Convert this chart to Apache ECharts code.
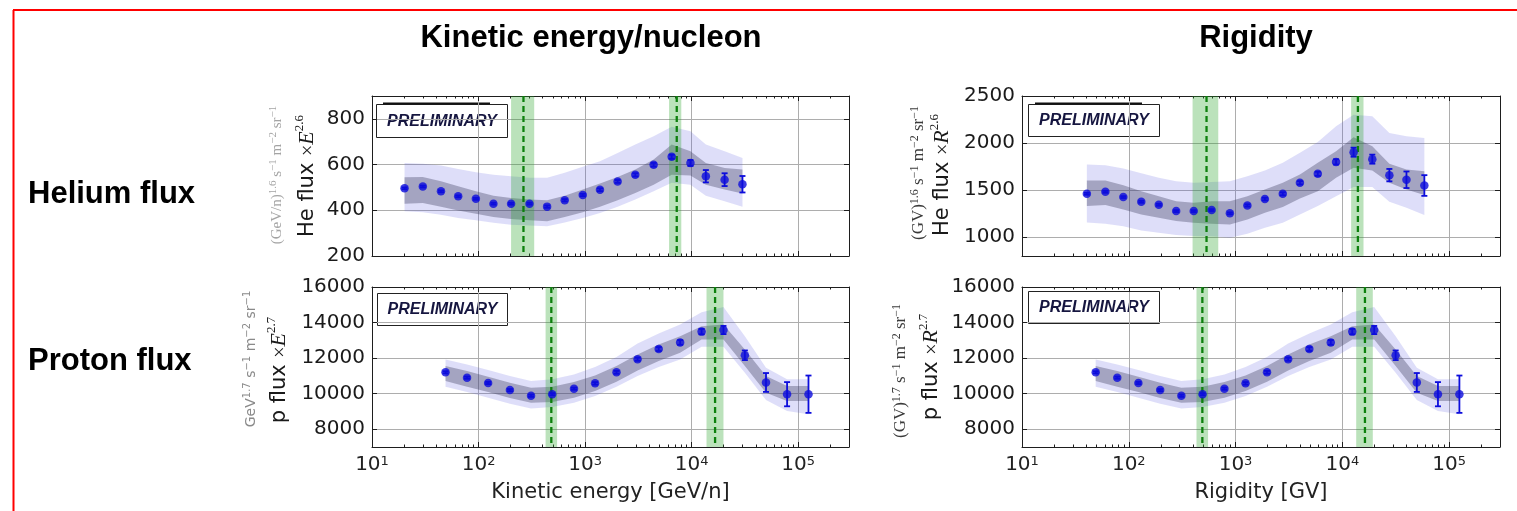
<!DOCTYPE html>
<html>
<head>
<meta charset="utf-8">
<script src="https://cdn.jsdelivr.net/npm/echarts@6/dist/echarts.min.js"></script>
<style>
  html, body { margin: 0; padding: 0; background: #ffffff; overflow: hidden; }
  #chart { width: 1517px; height: 511px; }
</style>
</head>
<body>
<div id="chart"></div>
<script>
// ---------- shared log x axis ----------
const X_MIN = 10;
const X_MAX = 300000;
const xMajor = [10, 100, 1000, 10000, 100000];
const xMajorExp = ['1', '2', '3', '4', '5'];
const xMinor = [20, 30, 40, 50, 60, 70, 80, 90,
                200, 300, 400, 500, 600, 700, 800, 900,
                2000, 3000, 4000, 5000, 6000, 7000, 8000, 9000,
                20000, 30000, 40000, 50000, 60000, 70000, 80000, 90000,
                200000, 300000];

// ---------- Helium flux x E^2.6 vs kinetic energy per nucleon ----------
const heEkX   = [20.2, 30, 44.4, 64.4, 94.4, 138, 202, 301, 440, 644, 951, 1380, 2020, 2960, 4400, 6500, 9750, 13600, 20400, 30000];
const heEkY   = [496, 504, 483, 461, 450, 429, 429, 429, 416, 444, 467, 490, 526, 555, 599, 634, 607, 549, 534, 514];
const heEkErr = [4, 4, 4, 4, 4, 4, 4, 4, 5, 5, 5, 6, 6, 7, 8, 9, 13, 27, 28, 36];
const heEkInnerHi = [545, 546, 527, 505, 483, 464, 454, 447, 444, 464, 491, 517, 546, 578, 622, 688, 658, 607, 585, 578];
const heEkInnerLo = [429, 432, 415, 399, 385, 371, 362, 356, 352, 371, 391, 415, 444, 476, 512, 556, 552, 512, 491, 473];
const heEkOuterHi = [607, 604, 596, 581, 566, 556, 549, 542, 542, 564, 590, 615, 651, 688, 724, 765, 746, 688, 658, 629];
const heEkOuterLo = [396, 391, 381, 366, 356, 345, 337, 333, 330, 347, 366, 388, 415, 447, 483, 520, 512, 464, 439, 415];
// [band low, band high, dashed line] per spectral break
const heEkBreaks = [[202, 333, 264], [6140, 8000, 7250]];
const heEkTicks = [200, 400, 600, 800];

// ---------- Helium flux x R^2.6 vs rigidity ----------
const heRX   = [40.5, 60.4, 88.9, 131, 191, 278, 406, 597, 885, 1291, 1884, 2771, 4010, 5894, 8744, 12760, 19100, 27600, 39900, 58700];
const heRY   = [1461, 1482, 1426, 1376, 1344, 1277, 1277, 1288, 1253, 1337, 1405, 1461, 1578, 1673, 1800, 1903, 1829, 1659, 1610, 1549];
const heRErr = [10, 10, 10, 10, 10, 10, 10, 10, 10, 12, 14, 16, 18, 22, 28, 48, 48, 66, 88, 110];
const heRInnerHi = [1602, 1602, 1553, 1489, 1436, 1383, 1366, 1383, 1383, 1436, 1507, 1578, 1666, 1790, 1913, 2062, 1966, 1779, 1719, 1701];
const heRInnerLo = [1330, 1341, 1295, 1242, 1207, 1171, 1154, 1143, 1136, 1189, 1260, 1320, 1412, 1489, 1631, 1737, 1708, 1578, 1507, 1447];
const heROuterHi = [1772, 1765, 1731, 1680, 1631, 1595, 1578, 1585, 1595, 1648, 1708, 1790, 1896, 2012, 2179, 2302, 2285, 2108, 2072, 2055];
const heROuterLo = [1157, 1143, 1115, 1072, 1048, 1023, 1012, 1009, 995, 1037, 1101, 1154, 1242, 1330, 1436, 1532, 1532, 1376, 1313, 1235];
const heRBreaks = [[396, 689, 535], [12100, 15800, 14000]];
const heRTicks = [1000, 1500, 2000, 2500];

// ---------- Proton flux x E^2.7 (same points vs E and vs R) ----------
const pX   = [49, 78, 123, 197, 311, 491, 787, 1241, 1972, 3110, 4910, 7800, 12400, 19900, 31600, 49900, 78700, 125000];
const pY   = [11200, 10900, 10600, 10200, 9880, 9970, 10280, 10580, 11200, 11940, 12510, 12880, 13490, 13580, 12160, 10630, 9970, 9970];
const pErr = [60, 60, 60, 60, 60, 60, 60, 70, 80, 90, 110, 130, 150, 230, 270, 530, 680, 1050];
const pInnerHi = [11551, 11271, 10953, 10617, 10336, 10392, 10654, 11028, 11551, 12205, 12766, 13233, 13794, 13888, 12486, 10991, 10430, 10430];
const pInnerLo = [10710, 10392, 10093, 9757, 9495, 9533, 9776, 10150, 10673, 11308, 11832, 12299, 13047, 13047, 11551, 10056, 9589, 9589];
const pOuterHi = [11925, 11645, 11327, 10991, 10710, 10804, 11084, 11495, 12056, 12822, 13383, 13888, 14579, 14878, 13233, 11458, 10804, 10804];
const pOuterLo = [10392, 10093, 9776, 9439, 9159, 9252, 9495, 9869, 10392, 10991, 11495, 11925, 12635, 12635, 11178, 9645, 9028, 8841];
const pEkBreaks = [[426, 546, 482], [13800, 19900, 16600]];
const pRBreaks  = [[431, 553, 489], [13500, 19300, 16300]];
const pTicks = [8000, 10000, 12000, 14000, 16000];

// ---------- panel layout ----------
const panels = [
  { grid: { left: 372, top: 96, width: 477, height: 160 }, yMin: 200, yMax: 900, yTicks: heEkTicks,
    xs: heEkX, ys: heEkY, err: heEkErr, inHi: heEkInnerHi, inLo: heEkInnerLo, outHi: heEkOuterHi, outLo: heEkOuterLo,
    breaks: heEkBreaks, xName: '' },
  { grid: { left: 372, top: 287, width: 477, height: 160 }, yMin: 7000, yMax: 16000, yTicks: pTicks,
    xs: pX, ys: pY, err: pErr, inHi: pInnerHi, inLo: pInnerLo, outHi: pOuterHi, outLo: pOuterLo,
    breaks: pEkBreaks, xName: 'Kinetic energy [GeV/n]' },
  { grid: { left: 1022, top: 96, width: 478, height: 160 }, yMin: 800, yMax: 2500, yTicks: heRTicks,
    xs: heRX, ys: heRY, err: heRErr, inHi: heRInnerHi, inLo: heRInnerLo, outHi: heROuterHi, outLo: heROuterLo,
    breaks: heRBreaks, xName: '' },
  { grid: { left: 1022, top: 287, width: 478, height: 160 }, yMin: 7000, yMax: 16000, yTicks: pTicks,
    xs: pX, ys: pY, err: pErr, inHi: pInnerHi, inLo: pInnerLo, outHi: pOuterHi, outLo: pOuterLo,
    breaks: pRBreaks, xName: 'Rigidity [GV]' }
];

const AX = '#1e1e1e';
const GRIDC = '#adadad';
const PT = '#0c0cdc';
const SANS = 'DejaVu Sans';
const SERIF = 'Liberation Serif';

const grids = [], xAxes = [], yAxes = [], series = [];

panels.forEach((p, g) => {
  grids.push(Object.assign({ show: false, containLabel: false, outerBoundsMode: 'none' }, p.grid));
  const showLabels = p.xName !== '';
  const xi = xAxes.length;
  // main bottom axis: decades, labels, grid lines
  xAxes.push({
    type: 'log', logBase: 10, gridIndex: g, min: X_MIN, max: X_MAX, position: 'bottom',
    axisLine: { show: true, onZero: false, lineStyle: { color: AX, width: 1 } },
    axisTick: { show: true, inside: true, length: 5, customValues: xMajor, lineStyle: { color: AX } },
    axisLabel: {
      show: showLabels, customValues: xMajor, margin: 8,
      formatter: v => '{b|10}{e|' + xMajorExp[xMajor.indexOf(v)] + '}',
      rich: {
        b: { fontSize: 20, fontFamily: SANS, color: '#222', lineHeight: 20, padding: [4, 0, 0, 0], verticalAlign: 'bottom' },
        e: { fontSize: 13, fontFamily: SANS, color: '#222', lineHeight: 13, verticalAlign: 'top' }
      }
    },
    splitLine: { show: true, lineStyle: { color: GRIDC, width: 1 } },
    name: p.xName, nameLocation: 'middle', nameGap: 35,
    nameTextStyle: { fontSize: 21, fontFamily: SANS, color: '#222' }
  });
  // top frame with decade ticks
  xAxes.push({
    type: 'log', logBase: 10, gridIndex: g, min: X_MIN, max: X_MAX, position: 'top',
    axisLine: { show: true, onZero: false, lineStyle: { color: AX, width: 1 } },
    axisTick: { show: true, inside: true, length: 5, customValues: xMajor, lineStyle: { color: AX } },
    axisLabel: { show: false }, splitLine: { show: false }
  });
  // minor ticks, bottom and top
  ['bottom', 'top'].forEach(pos => {
    xAxes.push({
      type: 'log', logBase: 10, gridIndex: g, min: X_MIN, max: X_MAX, position: pos,
      axisLine: { show: false },
      axisTick: { show: true, inside: true, length: 2.5, customValues: xMinor, lineStyle: { color: AX } },
      axisLabel: { show: false }, splitLine: { show: false }
    });
  });

  const yi = yAxes.length;
  yAxes.push({
    type: 'value', gridIndex: g, min: p.yMin, max: p.yMax, position: 'left',
    axisLine: { show: true, onZero: false, lineStyle: { color: AX, width: 1 } },
    axisTick: { show: true, inside: true, length: 5, customValues: p.yTicks, lineStyle: { color: AX } },
    axisLabel: { customValues: p.yTicks, formatter: v => String(v),
                 fontSize: 20, fontFamily: SANS, color: '#1a1a1a', margin: 7 },
    splitLine: { show: true, lineStyle: { color: GRIDC, width: 1 } }
  });
  yAxes.push({
    type: 'value', gridIndex: g, min: p.yMin, max: p.yMax, position: 'right',
    axisLine: { show: true, onZero: false, lineStyle: { color: AX, width: 1 } },
    axisTick: { show: true, inside: true, length: 5, customValues: p.yTicks, lineStyle: { color: AX } },
    axisLabel: { show: false }, splitLine: { show: false }
  });

  // uncertainty bands drawn as polygons through the axis scales
  const band = (hi, lo, fill, z) => ({
    type: 'custom', xAxisIndex: xi, yAxisIndex: yi, z: z, silent: true,
    data: p.xs.map((x, i) => [x, lo[i], hi[i]]),
    encode: { x: 0, y: [1, 2] },
    renderItem: (params, api) => {
      if (params.dataIndex !== 0) return null;
      const pts = [];
      for (let i = 0; i < p.xs.length; i++) pts.push(api.coord([p.xs[i], hi[i]]));
      for (let i = p.xs.length - 1; i >= 0; i--) pts.push(api.coord([p.xs[i], lo[i]]));
      return { type: 'polygon', shape: { points: pts }, style: { fill: fill } };
    }
  });
  series.push(band(p.outHi, p.outLo, 'rgba(80,80,225,0.19)', 1));
  series.push(band(p.inHi, p.inLo, 'rgba(60,60,95,0.36)', 2));

  // break positions: shaded interval and dashed centre line
  series.push({
    type: 'custom', xAxisIndex: xi, yAxisIndex: yi, z: 3, silent: true,
    data: p.breaks,
    encode: { x: [0, 1, 2] },
    renderItem: (params, api) => {
      const cs = params.coordSys;
      const x0 = api.coord([api.value(0), p.yMin])[0];
      const x1 = api.coord([api.value(1), p.yMin])[0];
      const xc = api.coord([api.value(2), p.yMin])[0];
      return {
        type: 'group',
        children: [
          { type: 'rect', shape: { x: x0, y: cs.y, width: x1 - x0, height: cs.height },
            style: { fill: 'rgba(45,165,45,0.32)' } },
          { type: 'line', shape: { x1: xc, y1: cs.y, x2: xc, y2: cs.y + cs.height },
            style: { stroke: '#0d800d', lineWidth: 2.3, lineDash: [6, 4] } }
        ]
      };
    }
  });

  // error bars
  series.push({
    type: 'custom', xAxisIndex: xi, yAxisIndex: yi, z: 4, silent: true,
    data: p.xs.map((x, i) => [x, p.ys[i] - p.err[i], p.ys[i] + p.err[i]]),
    encode: { x: 0, y: [1, 2] },
    renderItem: (params, api) => {
      const a = api.coord([api.value(0), api.value(1)]);
      const b = api.coord([api.value(0), api.value(2)]);
      const st = { stroke: PT, lineWidth: 1.8 };
      return {
        type: 'group',
        children: [
          { type: 'line', shape: { x1: a[0], y1: a[1], x2: b[0], y2: b[1] }, style: st },
          { type: 'line', shape: { x1: a[0] - 3, y1: a[1], x2: a[0] + 3, y2: a[1] }, style: st },
          { type: 'line', shape: { x1: b[0] - 3, y1: b[1], x2: b[0] + 3, y2: b[1] }, style: st }
        ]
      };
    }
  });

  // measured points
  series.push({
    type: 'scatter', xAxisIndex: xi, yAxisIndex: yi, z: 5, silent: true,
    symbol: 'circle', symbolSize: 8.5,
    itemStyle: { color: PT },
    data: p.xs.map((x, i) => [x, p.ys[i]])
  });
});

// ---------- texts and frames ----------
const boldText = (text, x, y, align) => ({
  type: 'text', x: x, y: y, z: 50, silent: true,
  style: { text: text, fill: '#000', fontSize: 31, fontWeight: 'bold', fontFamily: 'Liberation Sans',
           align: align, verticalAlign: 'middle' }
});

const preliminary = (x, y, w, h, topRule) => {
  const kids = [
    { type: 'rect', shape: { x: x + 0.5, y: y + 0.5, width: w, height: h },
      style: { fill: '#fff', stroke: '#222', lineWidth: 1 } },
    { type: 'text', x: x + w / 2 + 0.5, y: y + h / 2 + 1,
      style: { text: 'PRELIMINARY', fill: '#161640', fontSize: 16, fontStyle: 'italic', fontWeight: 'bold',
               fontFamily: 'Liberation Sans', align: 'center', verticalAlign: 'middle' } }
  ];
  if (topRule) {
    kids.push({ type: 'line', shape: { x1: x + 7, y1: y - 0.5, x2: x + 114, y2: y - 0.5 },
                style: { stroke: '#111', lineWidth: 2 } });
  }
  return { type: 'group', z: 60, silent: true, children: kids };
};

const vText = (rich, text, x, y) => ({
  type: 'text', x: x, y: y, rotation: Math.PI / 2, z: 50, silent: true,
  style: { text: text, rich: rich, align: 'center', verticalAlign: 'middle' }
});

const supRich = (family, size, supSize, color) => ({
  u: { fontFamily: family, fontSize: size, lineHeight: size + 2, fill: color, verticalAlign: 'bottom' },
  s: { fontFamily: family, fontSize: supSize, lineHeight: supSize, fill: color, verticalAlign: 'top' }
});

const nameRich = {
  a: { fontFamily: SANS, fontSize: 21, lineHeight: 25, fill: '#1a1a1a', verticalAlign: 'bottom' },
  m: { fontFamily: SERIF, fontSize: 20, lineHeight: 25, fill: '#1a1a1a', verticalAlign: 'bottom' },
  i: { fontFamily: SERIF, fontStyle: 'italic', fontSize: 22, lineHeight: 25, fill: '#1a1a1a', verticalAlign: 'bottom' },
  s: { fontFamily: SERIF, fontSize: 13, lineHeight: 13, fill: '#1a1a1a', verticalAlign: 'top' }
};

const graphic = [
  // page frame: top and left edges
  { type: 'line', z: 40, silent: true, shape: { x1: 13, y1: 10, x2: 1517, y2: 10 },
    style: { stroke: '#ff0000', lineWidth: 2 } },
  { type: 'line', z: 40, silent: true, shape: { x1: 13.5, y1: 10, x2: 13.5, y2: 511 },
    style: { stroke: '#ff0000', lineWidth: 2 } },
  boldText('Kinetic energy/nucleon', 591, 38, 'center'),
  boldText('Rigidity', 1256, 38, 'center'),
  boldText('Helium flux', 28, 194, 'left'),
  boldText('Proton flux', 28, 361, 'left'),

  preliminary(376, 104, 131, 33, true),
  preliminary(377, 293, 130, 32, false),
  preliminary(1028, 104, 131, 32, true),
  preliminary(1028, 291, 131, 32, false),

  vText(supRich(SERIF, 15, 11, '#a4a4a4'),
        '{u|(GeV/n)}{s|1.6}{u| s}{s|−1}{u| m}{s|−2}{u| sr}{s|−1}', 276, 175),
  vText(nameRich, '{a|He flux }{m|×}{i|E}{s|2.6}', 306, 176),

  vText(supRich(SANS, 14, 10, '#8a8a8a'),
        '{u|GeV}{s|1.7}{u| s}{s|−1}{u| m}{s|−2}{u| sr}{s|−1}', 250, 359),
  vText(nameRich, '{a|p flux }{m|×}{i|E}{s|2.7}', 278, 370),

  vText(supRich(SERIF, 17, 12, '#3a3a3a'),
        '{u|(GV)}{s|1.6}{u| s}{s|−1}{u| m}{s|−2}{u| sr}{s|−1}', 918, 173),
  vText(nameRich, '{a|He flux }{m|×}{i|R}{s|2.6}', 941, 175),

  vText(supRich(SERIF, 17, 12, '#3a3a3a'),
        '{u|(GV)}{s|1.7}{u| s}{s|−1}{u| m}{s|−2}{u| sr}{s|−1}', 900, 371),
  vText(nameRich, '{a|p flux }{m|×}{i|R}{s|2.7}', 930, 367)
];

const chart = echarts.init(document.getElementById('chart'), null, { renderer: 'canvas' });
chart.setOption({
  animation: false,
  backgroundColor: '#ffffff',
  grid: grids,
  xAxis: xAxes,
  yAxis: yAxes,
  series: series,
  graphic: graphic
});
</script>
</body>
</html>
